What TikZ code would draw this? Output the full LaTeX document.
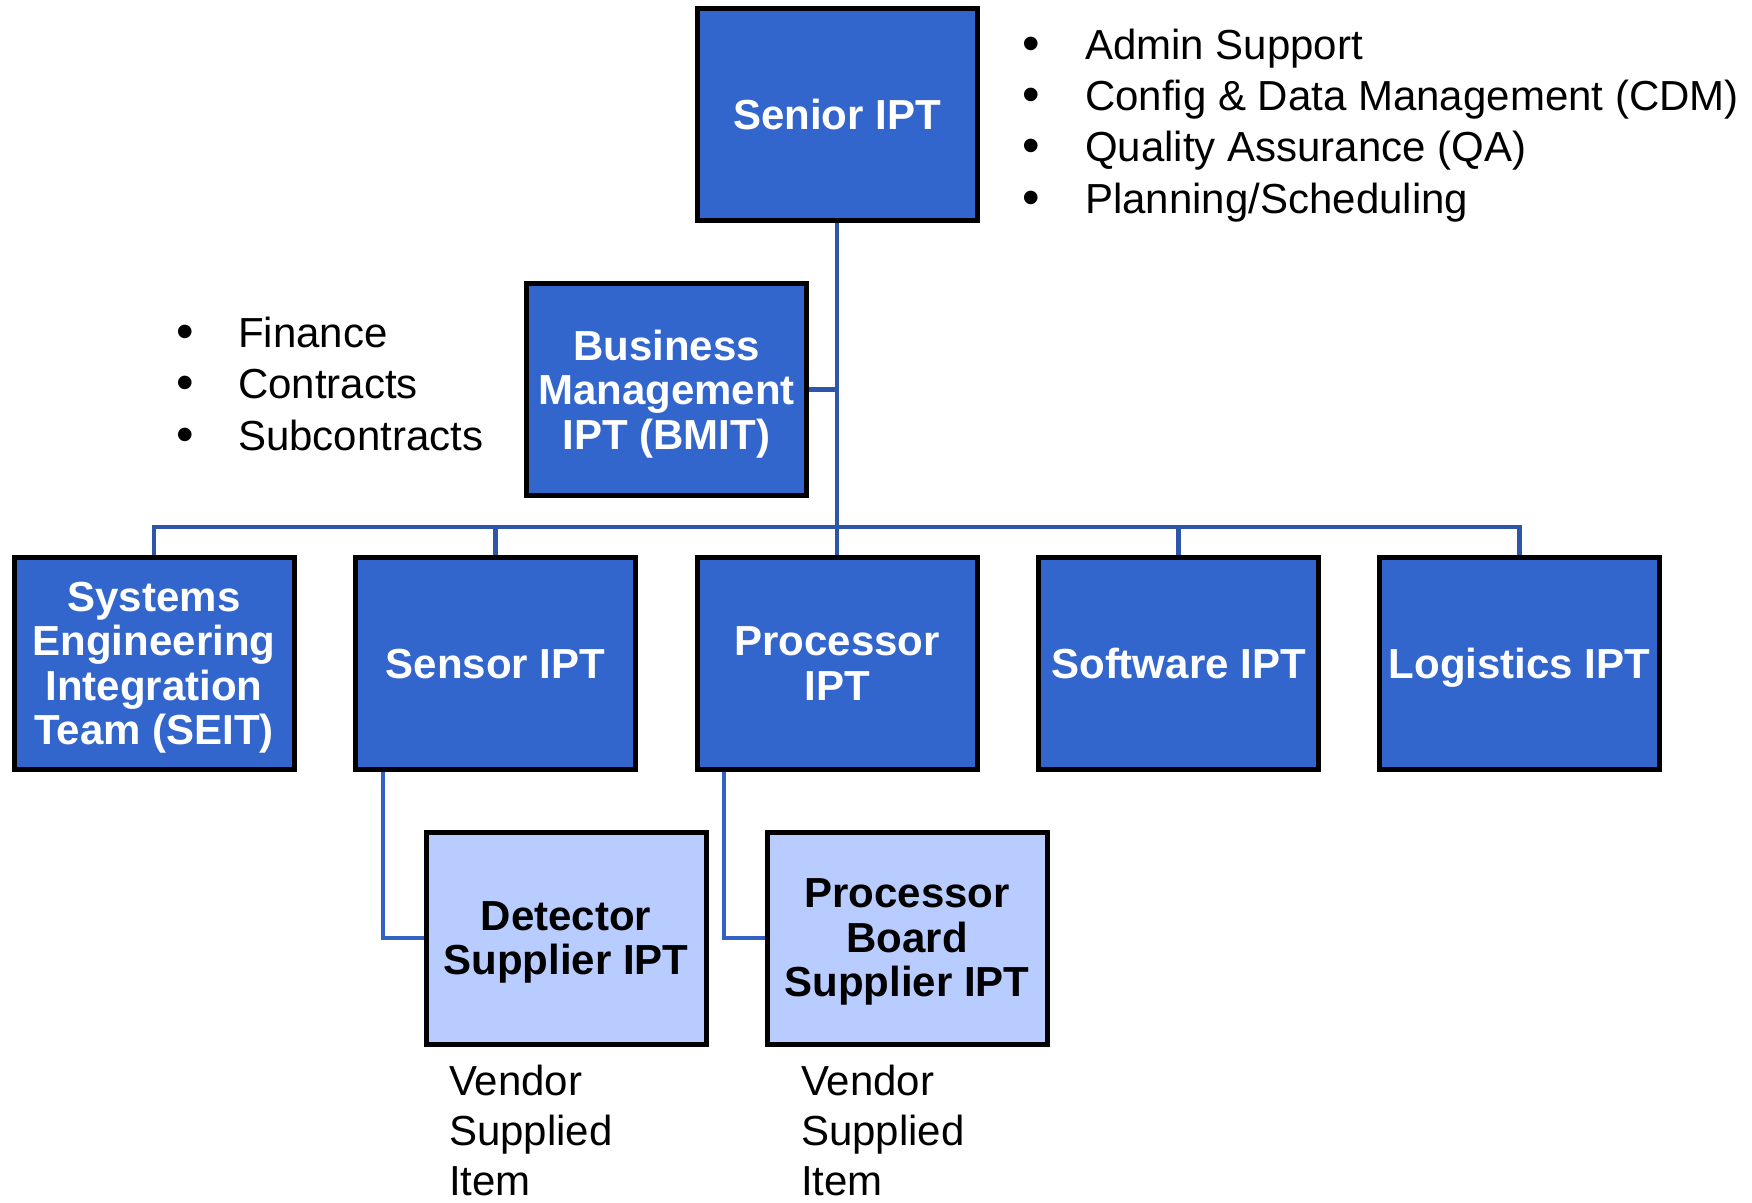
\documentclass[tikz,border=0pt]{standalone}
\usepackage{fontspec}
\setmainfont{Liberation Sans}
\usetikzlibrary{backgrounds}
\definecolor{boxblue}{HTML}{3366CC}
\definecolor{lightblue}{HTML}{B8CCFF}
\definecolor{linkblue}{HTML}{2E56A8}
\definecolor{sublink}{HTML}{3262C4}
\begin{document}
\begin{tikzpicture}[x=1pt,y=-1pt,
  ipt/.style={draw=black, line width=5pt, fill=boxblue, text=white,
    minimum width=280pt, minimum height=212pt, inner sep=0pt, align=center,
    text depth=0pt,
    font=\fontsize{42}{44.5}\selectfont\bfseries},
  subipt/.style={ipt, fill=lightblue, text=black},
  link/.style={draw=linkblue, line width=4.5pt},
  sublinkstyle/.style={draw=sublink, line width=4.5pt},
  itemtext/.style={anchor=base west, inner sep=0pt, font=\fontsize{42}{51}\selectfont},
  bullettext/.style={anchor=base, inner sep=0pt, font=\fontsize{50}{51}\selectfont}]
\useasboundingbox (0,0) rectangle (1752,1202);

% boxes
\node[ipt] (senior) at (837,114.5) {Senior IPT};
\node[ipt] (bmit) at (666.5,389.5) {Business\\Management\\IPT (BMIT)};
\node[ipt] (seit) at (154,663.5) {Systems\\Engineering\\Integration\\Team (SEIT)};
\node[ipt] (sensor) at (495.5,663.5) {Sensor IPT};
\node[ipt] (proc) at (837,663.5) {Processor\\IPT};
\node[ipt] (soft) at (1178.5,663.5) {Software IPT};
\node[ipt] (logi) at (1519.5,663.5) {Logistics IPT};
\node[subipt] (det) at (566,938) {Detector\\Supplier IPT};
\node[subipt] (board) at (907,938) {Processor\\Board\\Supplier IPT};

% connectors
\coordinate (bus) at (837,527);
\coordinate (sx) at (383,0);
\coordinate (px) at (724,0);
\begin{scope}[on background layer]
  \draw[link] (senior.south) -- (proc.north);
  \draw[link] (bmit.east) -- (senior.south |- bmit.east);
  \draw[link] (seit.north) |- (bus) -| (logi.north);
  \draw[link] (sensor.north) -- (sensor.north |- bus);
  \draw[link] (soft.north) -- (soft.north |- bus);
  \draw[sublinkstyle] (sensor.south -| sx) |- (det.west);
  \draw[sublinkstyle] (proc.south -| px) |- (board.west);
\end{scope}

% right bullet list
\node[bullettext] (b1) at (1031,60) {•};
\node[itemtext] (t1) at (1085,59) {Admin Support};
\node[bullettext] (b2) at (1031,111) {•};
\node[itemtext] (t2) at (1085,110) {Config \& Data Management (CDM)};
\node[bullettext] (b3) at (1031,162) {•};
\node[itemtext] (t3) at (1085,161) {Quality Assurance (QA)};
\node[bullettext] (b4) at (1031,214) {•};
\node[itemtext] (t4) at (1085,213) {Planning/Scheduling};

% left bullet list
\node[bullettext] (lb1) at (185,348) {•};
\node[itemtext] (l1) at (238,347) {Finance};
\node[bullettext] (lb2) at (185,399) {•};
\node[itemtext] (l2) at (238,398) {Contracts};
\node[bullettext] (lb3) at (185,451) {•};
\node[itemtext] (l3) at (238,450) {Subcontracts};

% vendor texts
\node[itemtext] (v1a) at (449,1095) {Vendor};
\node[itemtext] (v1b) at (449,1145) {Supplied};
\node[itemtext] (v1c) at (449,1195) {Item};
\node[itemtext] (v2a) at (801,1095) {Vendor};
\node[itemtext] (v2b) at (801,1145) {Supplied};
\node[itemtext] (v2c) at (801,1195) {Item};
\end{tikzpicture}
\end{document}
